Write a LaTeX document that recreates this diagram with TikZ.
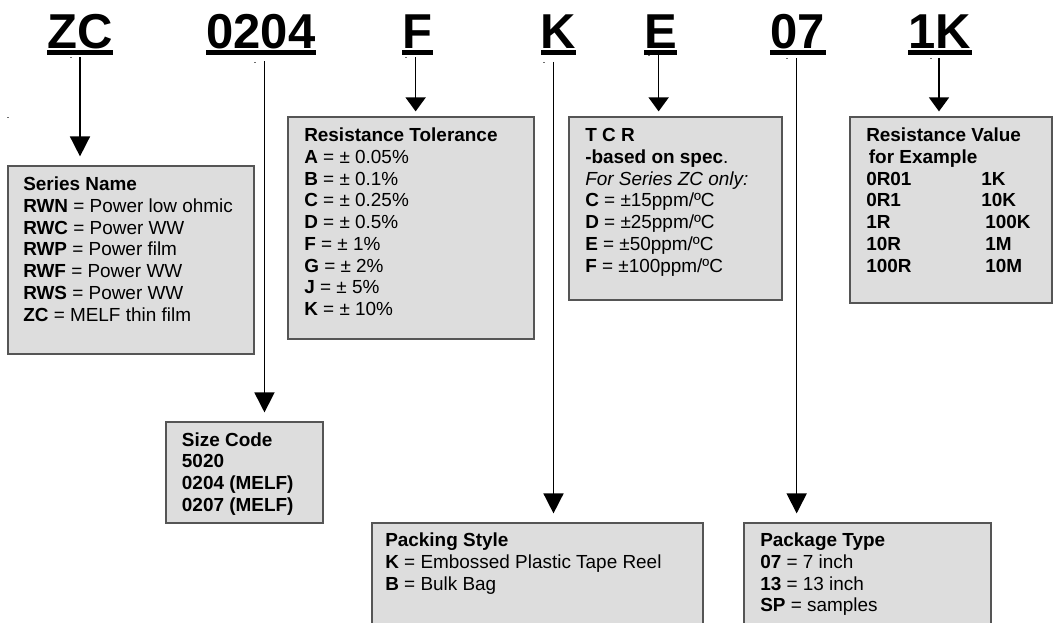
\documentclass[tikz,border=0pt]{standalone}
\usepackage{fontspec}
\setmainfont{Liberation Sans}
\usetikzlibrary{arrows.meta,fit}
\definecolor{boxfill}{RGB}{221,221,221}
\definecolor{boxline}{RGB}{85,85,85}
\definecolor{dotc}{RGB}{110,110,110}
\newcommand{\boxtext}{\fontsize{14.2pt}{16.3pt}\selectfont}
\newcommand{\lines}[1]{\begin{tabular}[t]{@{}l@{}}#1\end{tabular}}
\begin{document}
\begin{tikzpicture}[x=0.75pt,y=-0.75pt,
  box/.style={draw=boxline, fill=boxfill, line width=0.9pt, inner sep=0pt},
  lbl/.style={font=\fontsize{36.75pt}{40pt}\selectfont\bfseries, inner sep=0pt, anchor=base},
  txt/.style={inner sep=0pt, anchor=base west, font=\boxtext},
  conn/.style={line width=1.2pt},
  bigarrow/.style={conn, -{Triangle[width=15pt,length=15pt]}},
  smallarrow/.style={conn, -{Triangle[width=15pt,length=10.5pt]}}]
\useasboundingbox (0,0) rectangle (1054,622);
\clip (0,0) rectangle (1054,622);
\fill[white] (0,0) rectangle (1054,622);

% boxes
\node[box, fit={(8,166) (254,354)}] (series) {};
\node[box, fit={(288,117) (534,339)}] (tol) {};
\node[box, fit={(569,117) (782,300)}] (tcr) {};
\node[box, fit={(850,117) (1052,303)}] (resval) {};
\node[box, fit={(166,422) (323,523)}] (size) {};
\node[box, fit={(372,523) (703,640)}] (pack) {};
\node[box, fit={(744,523) (991,640)}] (pkgt) {};

% box texts
\node[txt] (tseries) at (23,190.7) {\lines{\textbf{Series Name}\\
  \textbf{RWN} = Power low ohmic\\
  \textbf{RWC} = Power WW\\
  \textbf{RWP} = Power film\\
  \textbf{RWF} = Power WW\\
  \textbf{RWS} = Power WW\\
  \textbf{ZC} = MELF thin film}};
\node[txt] (ttol) at (304,141.7) {\lines{\textbf{Resistance Tolerance}\\
  \textbf{A} = ± 0.05\%\\
  \textbf{B} = ± 0.1\%\\
  \textbf{C} = ± 0.25\%\\
  \textbf{D} = ± 0.5\%\\
  \textbf{F} = ± 1\%\\
  \textbf{G} = ± 2\%\\
  \textbf{J} = ± 5\%\\
  \textbf{K} = ± 10\%}};
\node[txt] (ttcr) at (585,141.7) {\lines{\textbf{T C R}\\
  \textbf{-based on spec}.\\
  \textit{For Series ZC only:}\\
  \textbf{C} = ±15ppm/ºC\\
  \textbf{D} = ±25ppm/ºC\\
  \textbf{E} = ±50ppm/ºC\\
  \textbf{F} = ±100ppm/ºC}};
\node[txt, font=\boxtext\bfseries] (tres) at (866,141.7) {\lines{Resistance Value\\
  \hspace*{2pt}for Example\\
  \makebox[86.25pt][l]{0R01}1K\\
  \makebox[86.25pt][l]{0R1}10K\\
  \makebox[89.25pt][l]{1R}100K\\
  \makebox[89.25pt][l]{10R}1M\\
  \makebox[89.25pt][l]{100R}10M}};
\node[txt, font=\boxtext\bfseries] (tsize) at (181.7,446) {\lines{Size Code\\
  5020\\
  0204 (MELF)\\
  0207 (MELF)}};
\node[txt] (tpack) at (385,546.7) {\lines{\textbf{Packing Style}\\
  \textbf{K} = Embossed Plastic Tape Reel\\
  \textbf{B} = Bulk Bag}};
\node[txt] (tpkgt) at (760,546.7) {\lines{\textbf{Package Type}\\
  \textbf{07} = 7 inch\\
  \textbf{13} = 13 inch\\
  \textbf{SP} = samples}};

% code labels
\node[lbl] (zc) at (80,48.5) {ZC};
\node[lbl] (n0204) at (261,48.5) {0204};
\node[lbl] (f) at (417.5,48.5) {F};
\node[lbl] (k) at (558.5,48.5) {K};
\node[lbl] (e) at (660.5,48.5) {E};
\node[lbl] (n07) at (798,48.5) {07};
\node[lbl] (n1k) at (940,48.5) {1K};
\foreach \n in {zc,n0204,f,k,e,n07,n1k}
  \fill ([yshift=-1.2pt]\n.base west) rectangle ([yshift=-4.5pt]\n.base east);

% connectors
\draw[bigarrow, shorten <=6.4pt, shorten >=6.75pt] (zc.base) -- (zc.base |- series.north);
\draw[bigarrow, shorten <=9.4pt, shorten >=6.75pt] ([xshift=2.6pt]n0204.base) -- ([xshift=2.6pt]n0204.base |- size.north);
\draw[smallarrow, shorten <=6.4pt, shorten >=3.75pt] ([xshift=-1.4pt]f.base) -- ([xshift=-1.4pt]f.base |- tol.north);
\draw[bigarrow, shorten <=10.1pt, shorten >=6.75pt] ([xshift=-3.75pt]k.base) -- ([xshift=-3.75pt]k.base |- pack.north);
\draw[smallarrow, shorten <=4.9pt, shorten >=3.75pt] ([xshift=-1.4pt]e.base) -- ([xshift=-1.4pt]e.base |- tcr.north);
\draw[bigarrow, shorten <=7.1pt, shorten >=6.75pt] ([xshift=-1pt]n07.base) -- ([xshift=-1pt]n07.base |- pkgt.north);
\draw[smallarrow, shorten <=7.1pt, shorten >=3.75pt] ([xshift=-0.75pt]n1k.base) -- ([xshift=-0.75pt]n1k.base |- resval.north);

% stray specks
\foreach \p in {(70,57),(254,62),(405,57),(543,62),(648,55),(786,58),(930,58),(7,117)}
  \fill[dotc] \p rectangle ++(1.8,1.4);
\end{tikzpicture}
\end{document}
